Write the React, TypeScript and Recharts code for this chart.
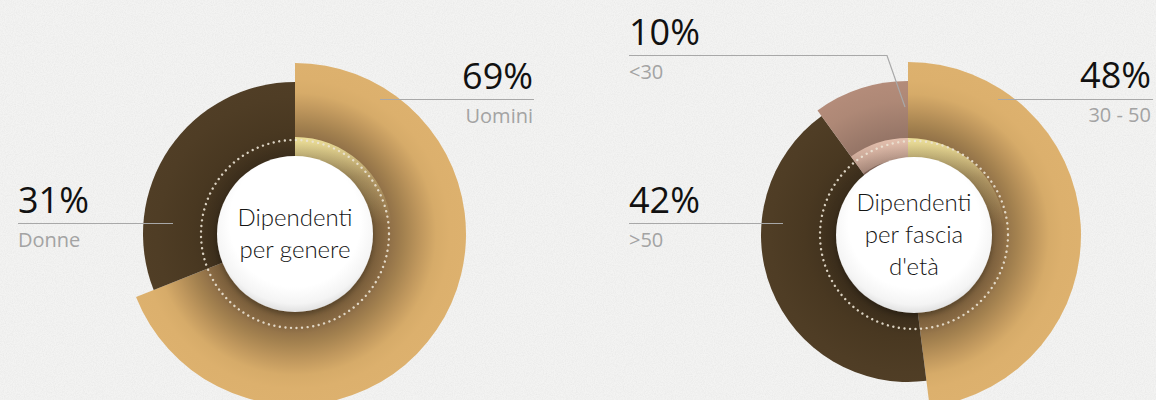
import React from "react";
import { Cell, Pie, PieChart } from "recharts";

// Dipendenti per genere
const genderCategories = ["Uomini", "Donne"];
const genderValues = [69, 31];

// Dipendenti per fascia d'età
const ageCategories = ["30 - 50", ">50", "<30"];
const ageValues = [48, 42, 10];

const W = 1156;
const H = 400;

const toRows = (names: string[], values: number[]) => names.map((name, i) => ({ name, value: values[i] }));

type Donut = {
  id: string;
  cx: number;
  cy: number;
  radii: number[];
  grads: string[];
  glows: (string | null)[];
};

const genderDonut: Donut = {
  id: "g",
  cx: 295,
  cy: 234,
  radii: [171, 152],
  grads: ["gold", "dark"],
  glows: ["#f0e49c", null],
};

const ageDonut: Donut = {
  id: "a",
  cx: 908,
  cy: 235,
  radii: [173, 147, 154],
  grads: ["gold", "dark", "pink"],
  glows: ["#f0e49c", null, "#e8c4b2"],
};

const STOPS: Record<string, [number, string][]> = {
  gold: [
    [0, "#7c5f3b"],
    [0.46, "#84663f"],
    [0.55, "#8f6f47"],
    [0.63, "#a3814f"],
    [0.73, "#bf975d"],
    [0.82, "#d6ab69"],
    [0.9, "#dcb06d"],
    [1, "#ddb16e"],
  ],
  dark: [
    [0, "#3e2f1c"],
    [0.46, "#41321e"],
    [0.6, "#493821"],
    [0.8, "#4f3d25"],
    [1, "#523f27"],
  ],
  pink: [
    [0, "#86675a"],
    [0.46, "#8a6b5e"],
    [0.6, "#997869"],
    [0.78, "#ae8876"],
    [0.9, "#b48c7a"],
    [1, "#b68e7c"],
  ],
};

function DonutDefs({ d }: { d: Donut }) {
  return (
    <>
      {Object.keys(STOPS).map((k) => (
        <radialGradient key={k} id={`${d.id}-${k}`} gradientUnits="userSpaceOnUse" cx={d.cx} cy={d.cy} r={172}>
          {STOPS[k].map(([o, c]) => (
            <stop key={o} offset={o} stopColor={c} />
          ))}
        </radialGradient>
      ))}
      {d.glows.map((c, i) =>
        c ? (
          <linearGradient key={i} id={`${d.id}-glow${i}`} gradientUnits="userSpaceOnUse" x1={0} y1={d.cy - 96} x2={0} y2={d.cy - 10}>
            <stop offset={0} stopColor={c} stopOpacity={0.95} />
            <stop offset={0.45} stopColor={c} stopOpacity={0.35} />
            <stop offset={1} stopColor={c} stopOpacity={0} />
          </linearGradient>
        ) : null
      )}
    </>
  );
}

function donutPies(d: Donut, rows: { name: string; value: number }[]) {
  const pies = d.radii.map((r, k) => (
    <Pie
      key={`${d.id}-p${k}`}
      data={rows}
      dataKey="value"
      nameKey="name"
      cx={d.cx}
      cy={d.cy}
      innerRadius={0}
      outerRadius={r}
      startAngle={90}
      endAngle={-270}
      stroke="none"
      isAnimationActive={false}
    >
      {rows.map((row, i) => (
        <Cell key={row.name} fill={i === k ? `url(#${d.id}-${d.grads[i]})` : "transparent"} stroke="none" />
      ))}
    </Pie>
  ));
  pies.push(
    <Pie
      key={`${d.id}-glow`}
      data={rows}
      dataKey="value"
      nameKey="name"
      cx={d.cx}
      cy={d.cy}
      innerRadius={76}
      outerRadius={97}
      startAngle={90}
      endAngle={-270}
      stroke="none"
      isAnimationActive={false}
    >
      {rows.map((row, i) => (
        <Cell key={row.name} fill={d.glows[i] ? `url(#${d.id}-glow${i})` : "transparent"} stroke="none" />
      ))}
    </Pie>
  );
  return pies;
}

function Hub({ cx, cy, lines }: { cx: number; cy: number; lines: string[] }) {
  const lh = 32;
  const first = cy - ((lines.length - 1) * lh) / 2 + 8;
  return (
    <g>
      <circle cx={cx} cy={cy + 4} r={96} fill="url(#hubShade)" />
      <circle cx={cx} cy={cy} r={94} fill="none" stroke="#ebe3d4" strokeWidth={2.4} strokeDasharray="0.01 5.6" strokeLinecap="round" opacity={0.9} />
      <circle cx={cx} cy={cy} r={78} fill="url(#hubFace)" filter="url(#hubDrop)" />
      {lines.map((t, i) => (
        <text
          key={t}
          x={cx}
          y={first + i * lh}
          textAnchor="middle"
          fontFamily="Lato, 'Open Sans', sans-serif"
          fontWeight={300}
          fontSize={24}
          fill="#151515"
        >
          {t}
        </text>
      ))}
    </g>
  );
}

const numStyle = { fontFamily: "'Open Sans', 'Noto Sans', sans-serif", fontSize: 36, fill: "#111" };
const subStyle = { fontFamily: "'Open Sans', 'Noto Sans', sans-serif", fontSize: 20, fill: "#a3a3a3" };

function Callout({
  value,
  name,
  x,
  y,
  anchor,
  line,
}: {
  value: number;
  name: string;
  x: number;
  y: number;
  anchor: "start" | "end";
  line: string;
}) {
  return (
    <g>
      <polyline points={line} fill="none" stroke="#a8a8a8" strokeWidth={1.2} />
      <text x={x} y={y} textAnchor={anchor} {...numStyle}>
        {value}%
      </text>
      <text x={x} y={y + 34} textAnchor={anchor} {...subStyle}>
        {name}
      </text>
    </g>
  );
}

export default function App() {
  const genderRows = toRows(genderCategories, genderValues);
  const ageRows = toRows(ageCategories, ageValues);

  return (
    <div style={{ position: "absolute", left: 0, top: 0, width: W, height: H, background: "#f0f0ef", overflow: "hidden" }}>
      <svg width={W} height={H} style={{ position: "absolute", left: 0, top: 0 }}>
        <filter id="paper">
          <feTurbulence type="fractalNoise" baseFrequency="0.9" numOctaves={2} seed={4} />
          <feColorMatrix type="matrix" values="0 0 0 0 0.5  0 0 0 0 0.5  0 0 0 0 0.5  0 0 0 -1.6 1.05" />
        </filter>
        <rect width={W} height={H} fill="#f3f3f2" />
        <rect width={W} height={H} filter="url(#paper)" opacity={0.18} />
      </svg>
      <div style={{ position: "absolute", left: 0, top: 0 }}>
        <PieChart width={W} height={H} margin={{ top: 0, right: 0, bottom: 0, left: 0 }}>
          <defs>
            <DonutDefs d={genderDonut} />
            <DonutDefs d={ageDonut} />
          </defs>
          {donutPies(genderDonut, genderRows)}
          {donutPies(ageDonut, ageRows)}
        </PieChart>
      </div>
      <svg width={W} height={H} style={{ position: "absolute", left: 0, top: 0, pointerEvents: "none" }}>
        <defs>
          <radialGradient id="hubShade">
            <stop offset={0.8} stopColor="#000" stopOpacity={0.12} />
            <stop offset={0.92} stopColor="#000" stopOpacity={0.05} />
            <stop offset={1} stopColor="#000" stopOpacity={0} />
          </radialGradient>
          <radialGradient id="hubFace" cx="50%" cy="42%" r="60%">
            <stop offset={0.7} stopColor="#ffffff" />
            <stop offset={0.88} stopColor="#f4f4f4" />
            <stop offset={1} stopColor="#d9d9d9" />
          </radialGradient>
          <filter id="hubDrop" x="-20%" y="-20%" width="140%" height="150%">
            <feDropShadow dx={0} dy={3} stdDeviation={2.5} floodColor="#000" floodOpacity={0.25} />
          </filter>
        </defs>

        <Hub cx={295} cy={234} lines={["Dipendenti", "per genere"]} />
        <Hub cx={914} cy={235} lines={["Dipendenti", "per fascia", "d'età"]} />

        <Callout value={genderValues[0]} name={genderCategories[0]} x={533} y={89} anchor="end" line="380,99.5 534,99.5" />
        <Callout value={genderValues[1]} name={genderCategories[1]} x={18} y={213} anchor="start" line="18,223.5 173,223.5" />

        <Callout value={ageValues[0]} name={ageCategories[0]} x={1151} y={88} anchor="end" line="998,99.5 1153,99.5" />
        <Callout value={ageValues[1]} name={ageCategories[1]} x={629} y={213} anchor="start" line="629,223.5 783,223.5" />
        <Callout value={ageValues[2]} name={ageCategories[2]} x={629} y={45} anchor="start" line="629,55.5 887,55.5 905,107" />
      </svg>
    </div>
  );
}
